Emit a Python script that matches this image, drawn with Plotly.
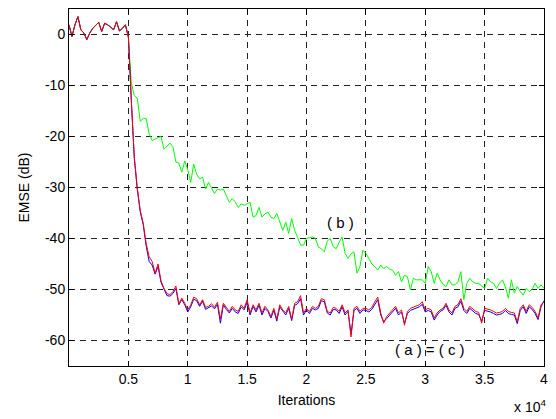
import plotly.graph_objects as go

step = 250
iterations = [i * step for i in range(161)]

start = [1.9, -0.4, 1.9, 3.5, 0.9, 0.3, -1.0, 0.3, 1.2, 1.9, 2.4, 0.6, 2.2, 1.9, 1.5,
         0.9, 2.5, 0.7, 1.2, 1.9, -0.5]

green_rest = [-9.5, -12.0, -12.5, -17.0, -16.5, -16.5, -19.5, -20.8, -20.5, -20.2,
              -20.0, -22.5, -21.8, -21.3, -22.0, -25.0, -25.2, -27.0, -24.8, -26.5,
              -29.0, -25.4, -27.4, -28.3, -28.0, -30.3, -29.0, -30.0, -31.2, -30.3,
              -30.5, -30.3, -31.5, -32.9, -32.2, -32.8, -33.9, -33.2, -33.5, -33.2,
              -32.9, -35.8, -35.5, -33.9, -35.8, -35.2, -34.8, -35.8, -36.1, -35.1,
              -37.0, -38.4, -36.8, -39.0, -36.1, -38.4, -39.8, -41.3, -41.3, -40.0,
              -39.8, -39.7, -40.0, -41.7, -42.0, -42.6, -40.5, -40.0, -41.6, -42.0,
              -40.7, -39.7, -42.9, -43.9, -43.0, -42.6, -46.8, -45.5, -42.3, -42.9,
              -43.9, -45.0, -45.5, -46.2, -45.2, -45.9, -45.5, -46.0, -46.2, -47.2,
              -46.5, -48.5, -47.2, -47.5, -50.1, -47.8, -48.1, -48.1, -48.1, -48.8,
              -45.5, -46.5, -48.8, -46.8, -48.1, -49.0, -49.4, -48.1, -49.1, -49.1,
              -48.5, -46.5, -52.0, -48.8, -47.8, -48.5, -48.8, -48.8, -49.3, -49.8,
              -47.8, -48.5, -48.8, -49.8, -48.8, -48.1, -49.5, -51.7, -48.1, -50.7,
              -49.4, -50.4, -51.1, -49.8, -50.4, -50.0, -48.8, -49.8, -49.1, -49.8]

red_rest = [-13.0, -24.0, -30.0, -34.5, -37.0, -41.0, -43.6, -44.5, -46.8, -45.0,
            -48.3, -49.8, -50.8, -51.0, -50.4, -49.3, -52.8, -51.7, -52.7, -54.0,
            -53.0, -51.5, -51.8, -53.0, -52.0, -53.5, -53.3, -52.8, -53.5, -52.5,
            -55.8, -52.7, -53.5, -54.3, -53.3, -54.0, -54.3, -53.0, -53.7, -52.0,
            -54.6, -53.0, -54.0, -52.7, -54.6, -53.3, -54.0, -55.3, -53.7, -55.8,
            -53.0, -54.0, -54.6, -53.3, -55.8, -52.7, -52.4, -51.2, -54.6, -53.7,
            -54.3, -53.3, -53.7, -53.3, -51.8, -52.0, -54.3, -54.6, -53.5, -53.7,
            -54.3, -53.0, -54.6, -54.0, -59.3, -53.7, -53.3, -54.3, -53.7, -53.7,
            -54.0, -53.5, -52.4, -51.5, -54.6, -56.6, -55.3, -54.6, -54.0, -53.3,
            -54.6, -54.0, -57.0, -54.3, -53.7, -53.5, -53.3, -53.0, -52.4, -54.0,
            -53.7, -54.0, -55.6, -54.6, -54.0, -53.7, -52.7, -54.0, -54.6, -53.3,
            -53.0, -51.8, -53.7, -54.3, -53.3, -53.8, -54.3, -54.5, -56.6, -53.7,
            -53.8, -54.0, -54.3, -54.6, -54.5, -54.3, -53.7, -54.3, -54.5, -54.6,
            -56.3, -53.7, -53.0, -54.3, -53.0, -53.5, -54.3, -55.6, -53.0, -52.4]

blue_rest = [-13.0, -24.3, -30.4, -34.8, -37.3, -41.5, -44.5, -45.2, -47.0, -45.5,
             -48.6, -50.0, -51.2, -51.3, -50.8, -49.8, -53.0, -52.0, -53.0, -54.4,
             -53.4, -51.9, -52.2, -53.3, -52.3, -53.9, -53.6, -53.2, -53.8, -52.9,
             -56.6, -53.0, -53.9, -54.6, -53.7, -54.4, -54.7, -53.4, -54.0, -52.5,
             -55.0, -53.3, -54.4, -53.1, -55.0, -53.7, -54.3, -55.6, -54.1, -56.2,
             -53.4, -54.3, -55.0, -53.7, -56.1, -53.1, -52.8, -51.8, -55.0, -54.0,
             -54.7, -53.7, -54.0, -53.7, -52.2, -52.4, -54.6, -55.0, -53.9, -54.0,
             -54.7, -53.4, -55.0, -54.3, -58.8, -54.1, -53.7, -54.7, -54.0, -54.1,
             -54.4, -53.9, -52.8, -52.0, -55.0, -56.3, -55.7, -55.0, -54.3, -53.7,
             -55.0, -54.4, -56.6, -54.7, -54.1, -53.9, -53.7, -53.4, -52.9, -54.4,
             -54.1, -54.4, -56.0, -55.0, -54.3, -54.0, -53.1, -54.4, -55.0, -53.7,
             -53.4, -52.3, -54.1, -54.7, -53.7, -54.2, -54.7, -54.9, -56.2, -54.1,
             -54.2, -54.4, -54.7, -55.0, -54.9, -54.7, -54.1, -54.7, -54.9, -55.0,
             -56.7, -54.1, -53.4, -54.7, -53.4, -53.9, -54.7, -55.9, -53.4, -52.2]

green = start + green_rest
red = start + red_rest
blue = start + blue_rest

x_tick_vals = [5000, 10000, 15000, 20000, 25000, 30000, 35000, 40000]
x_tick_text = ["0.5", "1", "1.5", "2", "2.5", "3", "3.5", "4"]
y_tick_vals = [-60, -50, -40, -30, -20, -10, 0]
y_tick_text = ["-60", "-50", "-40", "-30", "-20", "-10", "0"]

font = "Liberation Sans, Arial, sans-serif"

fig = go.Figure()
fig.add_trace(go.Scatter(x=iterations, y=green, mode="lines",
                         line=dict(color="#00FF00", width=1), name="(b)"))
fig.add_trace(go.Scatter(x=iterations, y=blue, mode="lines",
                         line=dict(color="#0000FF", width=1), name="(a)"))
fig.add_trace(go.Scatter(x=iterations, y=red, mode="lines",
                         line=dict(color="#FF0000", width=1), name="(c)"))

axis_common = dict(
    showline=True, linecolor="black", linewidth=1, mirror="ticks",
    ticks="inside", ticklen=5, tickcolor="black",
    showgrid=True, gridcolor="#222222", gridwidth=1, griddash="6px,5px",
    zeroline=False, tickfont=dict(family=font, size=14, color="black"),
)

fig.update_xaxes(range=[0, 40000], tickvals=x_tick_vals, ticktext=x_tick_text,
                 title=dict(text="Iterations", font=dict(family=font, size=14, color="black"),
                            standoff=9),
                 **axis_common)
fig.update_yaxes(range=[-65, 5], tickvals=y_tick_vals, ticktext=y_tick_text,
                 title=dict(text="EMSE (dB)", font=dict(family=font, size=14, color="black"),
                            standoff=12),
                 **axis_common)

fig.add_annotation(x=22900, y=-36.8, text="( b )", showarrow=False,
                   font=dict(family=font, size=15, color="black"))
fig.add_annotation(x=30400, y=-61.8, text="( a ) = ( c )", showarrow=False,
                   font=dict(family=font, size=15, color="black"))
fig.add_annotation(x=1.0, y=0, xref="paper", yref="paper", xanchor="right", yanchor="top",
                   yshift=-29, xshift=4,
                   text="x 10<sup>4</sup>", showarrow=False,
                   font=dict(family=font, size=14, color="black"))

fig.update_layout(
    width=556, height=419,
    margin=dict(l=69, r=9, t=8, b=53),
    paper_bgcolor="white", plot_bgcolor="white",
    showlegend=False,
)

fig.write_html("out.html")
